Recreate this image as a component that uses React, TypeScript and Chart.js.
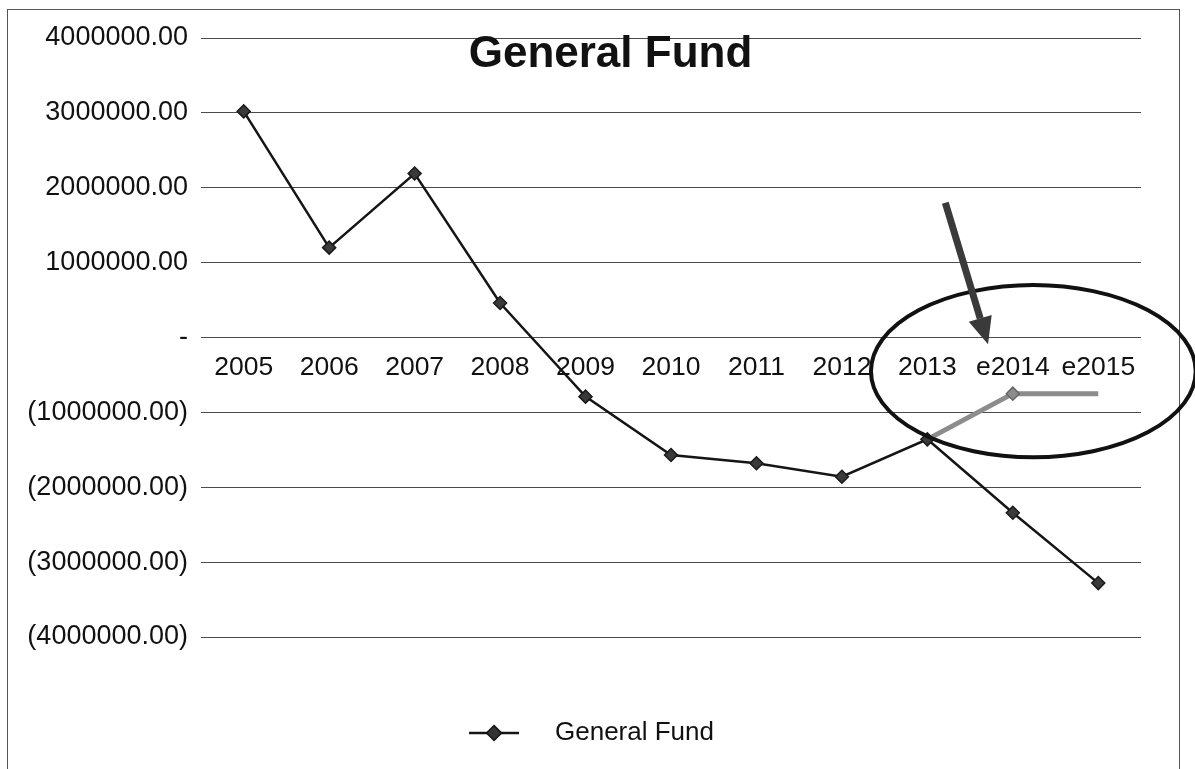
import React, { useEffect, useRef } from 'react';
import { Chart, registerables } from 'chart.js';

Chart.register(...registerables);

// ---- data ----
const categories = ['2005', '2006', '2007', '2008', '2009', '2010', '2011', '2012', '2013', 'e2014', 'e2015'];
const generalFund = [3020000, 1200000, 2190000, 460000, -790000, -1570000, -1680000, -1860000, -1360000, -2340000, -3280000];
const revisedEstimate = [null, null, null, null, null, null, null, null, -1360000, -750000, -750000];
const revisedMarkerRadius = [0, 0, 0, 0, 0, 0, 0, 0, 0, 6.5, 0];
const yMin = -4000000;
const yMax = 4000000;
const yStep = 1000000;
const titleText = 'General Fund';
const legendText = 'General Fund';

// hand-drawn annotations, in data units (category index, value)
const ellipseCenter = [9.24, -450000];
const ellipseRadii = [1.9, 1150000];
const arrowFrom = [8.21, 1800000];
const arrowTo = [8.71, -90000];

const FONT = '"Liberation Sans", Arial, sans-serif';

const fmt = (v: number) => (v === 0 ? '-' : v < 0 ? `(${Math.abs(v).toFixed(2)})` : v.toFixed(2));

const titlePlugin = {
  id: 'floatingTitle',
  afterDatasetsDraw(chart: any) {
    const { ctx } = chart;
    ctx.save();
    ctx.font = `bold 44px ${FONT}`;
    ctx.fillStyle = '#111';
    ctx.textAlign = 'center';
    ctx.textBaseline = 'alphabetic';
    ctx.fillText(titleText, chart.width / 2 + 13, 67);
    ctx.restore();
  },
};

const annotationPlugin = {
  id: 'handAnnotations',
  afterDraw(chart: any) {
    const { ctx } = chart;
    const x = chart.scales.x;
    const y = chart.scales.y;
    const cx = x.getPixelForValue(ellipseCenter[0]);
    const cy = y.getPixelForValue(ellipseCenter[1]);
    const rx = x.getPixelForValue(ellipseCenter[0] + ellipseRadii[0]) - cx;
    const ry = y.getPixelForValue(ellipseCenter[1] - ellipseRadii[1]) - cy;
    ctx.save();
    ctx.beginPath();
    ctx.ellipse(cx, cy, rx, ry, 0, 0, Math.PI * 2);
    ctx.lineWidth = 4;
    ctx.strokeStyle = '#111';
    ctx.stroke();

    const x1 = x.getPixelForValue(arrowFrom[0]);
    const y1 = y.getPixelForValue(arrowFrom[1]);
    const x2 = x.getPixelForValue(arrowTo[0]);
    const y2 = y.getPixelForValue(arrowTo[1]);
    const ang = Math.atan2(y2 - y1, x2 - x1);
    const headLen = 27;
    const headHalf = 12;
    const bx = x2 - headLen * Math.cos(ang);
    const by = y2 - headLen * Math.sin(ang);
    ctx.strokeStyle = '#3a3a3a';
    ctx.fillStyle = '#3a3a3a';
    ctx.lineWidth = 7;
    ctx.lineCap = 'butt';
    ctx.beginPath();
    ctx.moveTo(x1, y1);
    ctx.lineTo(bx, by);
    ctx.stroke();
    ctx.beginPath();
    ctx.moveTo(x2, y2);
    ctx.lineTo(bx + headHalf * Math.sin(ang), by - headHalf * Math.cos(ang));
    ctx.lineTo(bx - headHalf * Math.sin(ang), by + headHalf * Math.cos(ang));
    ctx.closePath();
    ctx.fill();
    ctx.restore();
  },
};

function makeLegendSymbol() {
  const c = document.createElement('canvas');
  c.width = 115;
  c.height = 26;
  const g = c.getContext('2d')!;
  g.strokeStyle = '#151515';
  g.lineWidth = 2.5;
  g.beginPath();
  g.moveTo(42, 13);
  g.lineTo(92, 13);
  g.stroke();
  g.fillStyle = '#333';
  g.strokeStyle = '#111';
  g.lineWidth = 1.5;
  g.beginPath();
  g.moveTo(67, 5.5);
  g.lineTo(74.5, 13);
  g.lineTo(67, 20.5);
  g.lineTo(59.5, 13);
  g.closePath();
  g.fill();
  g.stroke();
  return c;
}

export default function App() {
  const ref = useRef<HTMLCanvasElement>(null);

  useEffect(() => {
    if (!ref.current) return;
    Chart.defaults.font.family = FONT;
    Chart.defaults.color = '#111';
    const legendSymbol = makeLegendSymbol();
    const chart = new Chart(ref.current, {
      type: 'line',
      data: {
        labels: categories,
        datasets: [
          {
            label: legendText,
            data: generalFund,
            borderColor: '#151515',
            borderWidth: 2.5,
            pointStyle: 'rectRot',
            pointRadius: 6.5,
            pointBackgroundColor: '#3a3a3a',
            pointBorderColor: '#1a1a1a',
            pointBorderWidth: 1.5,
            tension: 0,
          },
          {
            label: 'Revised estimate',
            data: revisedEstimate,
            borderColor: '#8c8c8c',
            borderWidth: 5,
            pointStyle: 'rectRot',
            pointRadius: revisedMarkerRadius,
            pointBackgroundColor: '#8c8c8c',
            pointBorderColor: '#666',
            pointBorderWidth: 1.5,
            tension: 0,
            spanGaps: false,
          },
        ],
      },
      options: {
        responsive: false,
        animation: false,
        devicePixelRatio: 1,
        events: [],
        layout: { padding: { left: 0, right: 54, top: 38, bottom: 13 } },
        scales: {
          x: {
            type: 'category',
            position: { y: 0 },
            offset: true,
            grid: { display: false, drawTicks: false },
            border: { display: false },
            ticks: { padding: 14, font: { size: 26.5 }, color: '#111', maxRotation: 0, autoSkip: false },
          },
          y: {
            min: yMin,
            max: yMax,
            grid: { color: '#4a4a4a', lineWidth: 1, drawTicks: false },
            border: { display: false },
            ticks: { stepSize: yStep, padding: 13, font: { size: 27 }, color: '#111', callback: (v: any) => fmt(Number(v)) },
            afterFit: (s: any) => {
              s.width = 201;
            },
          },
        },
        plugins: {
          tooltip: { enabled: false },
          title: { display: false },
          legend: {
            position: 'bottom',
            labels: {
              filter: (item: any) => item.datasetIndex === 0,
              usePointStyle: true,
              pointStyle: legendSymbol as any,
              pointStyleWidth: 115,
              boxHeight: 26,
              padding: 83,
              font: { size: 26 },
              color: '#111',
            },
          },
        },
      } as any,
      plugins: [titlePlugin, annotationPlugin],
    });
    return () => chart.destroy();
  }, []);

  return (
    <div style={{ position: 'fixed', left: 0, top: 0, width: 1195, height: 769, overflow: 'hidden', background: '#fff' }}>
      <div
        style={{
          position: 'absolute',
          left: 7,
          top: 9,
          width: 1171,
          height: 800,
          border: '1px solid #555',
        }}
      />
      <canvas ref={ref} width={1195} height={769} style={{ position: 'absolute', left: 0, top: 0 }} />
    </div>
  );
}
